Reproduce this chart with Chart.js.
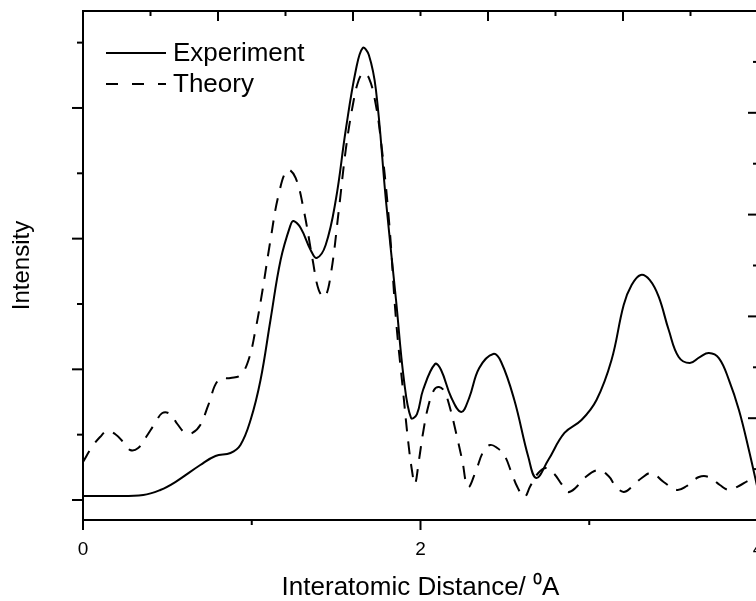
<!DOCTYPE html>
<html>
<head>
<meta charset="utf-8">
<script src="https://cdn.jsdelivr.net/npm/chart.js@4/dist/chart.umd.min.js"></script>
<style>
html,body{margin:0;padding:0;background:#fff;overflow:hidden;width:756px;height:601px;}
canvas{display:block;}
</style>
</head>
<body>
<canvas id="c" width="764" height="601"></canvas>
<script>
// Experiment (solid)
const expX = [0,0.16,0.357,0.458,0.547,0.695,0.785,0.874,0.933,0.993,1.052,1.111,1.171,1.23,1.248,1.29,1.349,1.385,1.438,1.498,1.557,1.617,1.658,1.694,1.736,1.795,1.855,1.902,1.944,1.979,2.015,2.086,2.122,2.181,2.241,2.288,2.348,2.431,2.478,2.556,2.639,2.686,2.757,2.853,2.954,3.043,3.132,3.204,3.251,3.305,3.358,3.412,3.471,3.53,3.596,3.655,3.709,3.768,3.828,3.887,3.946,4.006];
const expY = [0.236,0.236,0.246,0.295,0.373,0.54,0.629,0.658,0.737,0.982,1.375,1.965,2.554,2.898,2.937,2.868,2.652,2.574,2.701,3.143,3.831,4.42,4.637,4.568,4.224,3.143,2.161,1.375,1.002,1.041,1.277,1.532,1.473,1.208,1.061,1.198,1.493,1.631,1.552,1.179,0.619,0.413,0.589,0.855,0.982,1.179,1.572,2.112,2.308,2.407,2.358,2.191,1.866,1.601,1.542,1.601,1.64,1.591,1.375,1.081,0.688,0.246];
// Theory (dashed)
const thX = [0,0.053,0.101,0.143,0.19,0.238,0.279,0.327,0.374,0.428,0.47,0.517,0.559,0.606,0.648,0.695,0.743,0.802,0.874,0.933,0.981,1.022,1.064,1.111,1.159,1.212,1.26,1.308,1.361,1.397,1.432,1.468,1.516,1.557,1.599,1.634,1.664,1.694,1.73,1.765,1.813,1.855,1.896,1.926,1.949,1.967,1.991,2.015,2.045,2.08,2.11,2.14,2.175,2.211,2.247,2.282,2.33,2.371,2.413,2.455,2.496,2.538,2.574,2.615,2.651,2.698,2.746,2.793,2.835,2.871,2.918,2.971,3.055,3.114,3.156,3.204,3.251,3.311,3.37,3.441,3.519,3.578,3.65,3.709,3.774,3.828,3.887,3.952,4.006];
const thY = [0.57,0.717,0.815,0.874,0.845,0.766,0.688,0.707,0.815,0.953,1.051,1.041,0.943,0.855,0.855,0.933,1.13,1.375,1.395,1.424,1.572,1.866,2.259,2.75,3.193,3.438,3.36,3.045,2.554,2.259,2.191,2.407,3.045,3.635,4.077,4.322,4.391,4.342,4.126,3.733,2.947,1.965,1.277,0.786,0.491,0.354,0.589,0.855,1.11,1.277,1.306,1.267,1.1,0.855,0.589,0.324,0.491,0.668,0.737,0.707,0.639,0.472,0.324,0.226,0.334,0.462,0.511,0.452,0.354,0.275,0.314,0.413,0.491,0.432,0.334,0.275,0.324,0.413,0.462,0.373,0.295,0.334,0.422,0.422,0.344,0.295,0.334,0.393,0.413];

const seriesNames = ['Experiment', 'Theory'];
const xTickLabels = [0, 2, 4];
const xMinorTicks = [1, 3];
const topMajorTicks = [0.8, 1.6, 2.4, 3.2, 4.0];
const topMinorTicks = [0.4, 1.2, 2.0, 2.8, 3.6];
const leftMajorTicks = [0, 1, 2, 3];
const leftMinorTicks = [0.5, 1.5, 2.5, 3.5];
const rightMajorTicks = [1, 2, 3, 4];
const rightMinorTicks = [0.5, 1.5, 2.5, 3.5, 4.5];

const FONT = "'Liberation Sans', Arial, sans-serif";
const pts = (xs, ys) => xs.map((x, i) => ({x, y: ys[i]}));

const frame = {
  id: 'frame',
  afterDraw(chart) {
    const {ctx, chartArea: a, scales} = chart;
    ctx.save();
    ctx.strokeStyle = '#000';
    ctx.lineWidth = 2;
    ctx.setLineDash([]);
    const ln = (x1, y1, x2, y2) => { ctx.beginPath(); ctx.moveTo(x1, y1); ctx.lineTo(x2, y2); ctx.stroke(); };
    ln(a.left - 1, a.top, a.right + 2, a.top);
    xTickLabels.forEach(v => { const p = scales.x.getPixelForValue(v); ln(p, a.bottom, p, a.bottom + 10); });
    xMinorTicks.forEach(v => { const p = scales.x.getPixelForValue(v); ln(p, a.bottom, p, a.bottom + 5); });
    topMajorTicks.forEach(v => { const p = scales.x2.getPixelForValue(v); ln(p, a.top, p, a.top + 10); });
    topMinorTicks.forEach(v => { const p = scales.x2.getPixelForValue(v); ln(p, a.top, p, a.top + 5); });
    leftMajorTicks.forEach(v => { const p = scales.y.getPixelForValue(v); ln(a.left - 11, p, a.left, p); });
    leftMinorTicks.forEach(v => { const p = scales.y.getPixelForValue(v); ln(a.left - 6, p, a.left, p); });
    rightMajorTicks.forEach(v => { const p = scales.y2.getPixelForValue(v); ln(a.right - 10, p, a.right, p); });
    rightMinorTicks.forEach(v => { const p = scales.y2.getPixelForValue(v); ln(a.right - 5, p, a.right, p); });
    // legend
    const ds = chart.data.datasets;
    const lx = a.left + 23, lw = 60;
    ds.forEach((d, i) => {
      const y = a.top + 42 + i * 31;
      ctx.lineWidth = 2;
      ctx.setLineDash(d.borderDash ? [12, 14] : []);
      ln(lx, y, lx + lw, y);
      ctx.setLineDash([]);
      ctx.fillStyle = '#000';
      ctx.font = '26px ' + FONT;
      ctx.textBaseline = 'middle';
      ctx.textAlign = 'left';
      ctx.fillText(d.label, lx + lw + 7, y + 1);
    });
    ctx.restore();
  }
};

new Chart(document.getElementById('c'), {
  type: 'line',
  data: {
    datasets: [
      {label: seriesNames[0], data: pts(expX, expY), xAxisID: 'x', yAxisID: 'y2',
       borderColor: '#000', borderWidth: 2, pointRadius: 0, tension: 0.4, fill: false},
      {label: seriesNames[1], data: pts(thX, thY), xAxisID: 'x', yAxisID: 'y2',
       borderColor: '#000', borderWidth: 2, borderDash: [13, 10], pointRadius: 0, tension: 0.4, fill: false}
    ]
  },
  options: {
    responsive: false,
    animation: false,
    devicePixelRatio: 1,
    layout: {padding: {top: 11, right: 6, left: 0, bottom: 0}},
    plugins: {legend: {display: false}, tooltip: {enabled: false}},
    scales: {
      x: {
        type: 'linear', position: 'bottom', min: 0, max: 4,
        afterBuildTicks: s => { s.ticks = xTickLabels.map(v => ({value: v})); },
        afterFit: s => { s.height = 81; },
        grid: {display: false, drawTicks: true, tickLength: 18},
        border: {display: true, color: '#000', width: 2},
        ticks: {color: '#000', font: {family: FONT, size: 19}, padding: 0, maxRotation: 0, autoSkip: false},
        title: {display: true, text: 'Interatomic Distance/ \u2070A', color: '#000',
                font: {family: FONT, size: 26}, padding: {top: 0, bottom: -2}}
      },
      x2: {type: 'linear', position: 'top', min: 0, max: 4, display: false},
      y: {
        type: 'linear', position: 'left', min: -0.153, max: 3.742,
        afterFit: s => { s.width = 83; },
        grid: {display: false, drawTicks: false},
        border: {display: true, color: '#000', width: 2},
        ticks: {display: false},
        title: {display: true, text: 'Intensity', color: '#000',
                font: {family: FONT, size: 24}, padding: {top: 8, bottom: 0}}
      },
      y2: {type: 'linear', position: 'right', min: 0, max: 5, display: false}
    }
  },
  plugins: [frame]
});
</script>
</body>
</html>
